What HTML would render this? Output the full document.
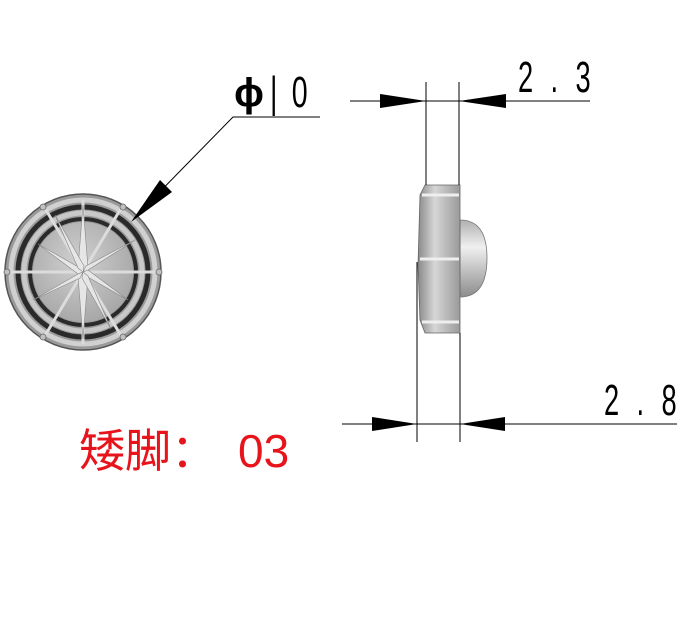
<!DOCTYPE html>
<html><head><meta charset="utf-8"><style>body{margin:0;background:#fff}svg{display:block}</style></head><body>
<svg width="680" height="626" viewBox="0 0 680 626" xmlns="http://www.w3.org/2000/svg">
<defs>
<radialGradient id="g1" cx="45%" cy="40%" r="60%"><stop offset="0" stop-color="#d0d0d0"/><stop offset="1" stop-color="#a8a8a8"/></radialGradient>
<linearGradient id="gb" x1="0" x2="1"><stop offset="0" stop-color="#8a8a8a"/><stop offset="0.4" stop-color="#d6d6d6"/><stop offset="1" stop-color="#9a9a9a"/></linearGradient>
<linearGradient id="gd" x1="0" y1="0" x2="0" y2="1"><stop offset="0" stop-color="#b0b0b0"/><stop offset="0.35" stop-color="#f0f0f0"/><stop offset="1" stop-color="#8c8c8c"/></linearGradient>
</defs>
<g>
<circle cx="83" cy="272" r="78" fill="#9a9a9a" stroke="#555" stroke-width="1.5"/>
<circle cx="83" cy="272" r="72" fill="none" stroke="#d0d0d0" stroke-width="5"/>
<circle cx="83" cy="272" r="65" fill="none" stroke="#2a2a2a" stroke-width="5"/>
<circle cx="83" cy="272" r="59" fill="none" stroke="#c8c8c8" stroke-width="5"/>
<circle cx="83" cy="272" r="53" fill="none" stroke="#2a2a2a" stroke-width="4"/>
<circle cx="83" cy="272" r="50" fill="url(#g1)"/>
<g stroke="#dcdcdc" stroke-width="3" fill="none">
<line x1="5" y1="272" x2="161" y2="272"/>
<line x1="43" y1="205" x2="123" y2="339"/>
<line x1="123" y1="205" x2="43" y2="339"/>
<line x1="83" y1="200" x2="83" y2="344"/>
</g>
<g fill="#e6e6e6" stroke="#888" stroke-width="0.6">
<polygon points="83,205 88,268 83,272 78,268"/>
<polygon points="83,339 88,276 83,272 78,276"/>
<polygon points="38,244 80,268 83,272 78,274"/>
<polygon points="128,300 86,276 83,272 88,270"/>
<polygon points="135,240 88,270 83,272 86,266"/>
<polygon points="33,300 78,274 83,272 80,278"/>
<polygon points="55,215 84,266 83,272 78,268"/>
<polygon points="111,329 82,278 83,272 88,276"/>
</g>
<g fill="#c0c0c0" stroke="#666" stroke-width="0.8">
<circle cx="7" cy="272" r="3"/><circle cx="159" cy="272" r="3"/>
<circle cx="43" cy="207" r="3"/><circle cx="123" cy="207" r="3"/>
<circle cx="43" cy="337" r="3"/><circle cx="123" cy="337" r="3"/>
</g>
</g>
<polyline points="320,117 233,117 140,212" fill="none" stroke="#000" stroke-width="1"/>
<polygon points="131,222 160,180 172,192" fill="#000"/>
<text x="234" y="106" font-family="Liberation Sans,sans-serif" font-size="40" font-weight="bold">ϕ</text>
<text x="270" y="107" font-family="Liberation Sans,sans-serif" font-size="44" font-weight="100" transform="translate(270 107) scale(0.65 1) translate(-270 -107)" letter-spacing="22">|0</text>
<path d="M460,220 Q487,220 487,258 Q487,297 460,297 Z" fill="url(#gd)" stroke="#777" stroke-width="0.8"/>
<path d="M425,185 L460,185 L460,333 L425,333 L420,320 L418,265 L420,195 Z" fill="url(#gb)" stroke="#666" stroke-width="0.8"/>
<g stroke="#eee" stroke-width="3"><line x1="422" y1="195" x2="459" y2="195"/><line x1="420" y1="259" x2="459" y2="259"/><line x1="422" y1="322" x2="459" y2="322"/></g>
<g stroke="#000" stroke-width="1">
<line x1="350" y1="101" x2="590" y2="101"/>
<line x1="426" y1="82" x2="426" y2="185"/>
<line x1="459" y1="82" x2="459" y2="185"/>
<line x1="342" y1="424" x2="677" y2="424"/>
<line x1="417" y1="262" x2="417" y2="442"/>
<line x1="460" y1="333" x2="460" y2="442"/>
</g>
<polygon points="380,94 426,101 380,108" fill="#000"/>
<polygon points="506,94 459,101 506,108" fill="#000"/>
<polygon points="372,417 417,424 372,431" fill="#000"/>
<polygon points="505,417 460,424 505,431" fill="#000"/>
<text x="518" y="92" font-family="Liberation Sans,sans-serif" font-size="44" font-weight="100" transform="translate(518 92) scale(0.62 1) translate(-518 -92)" letter-spacing="28">2.3</text>
<text x="604" y="415" font-family="Liberation Sans,sans-serif" font-size="44" font-weight="100" transform="translate(604 415) scale(0.62 1) translate(-604 -415)" letter-spacing="28">2.8</text>
<text x="79" y="467" fill="#e8141c" font-family="Liberation Sans,'Noto Sans CJK SC',sans-serif" font-size="46">矮脚：</text>
<text x="238" y="467" fill="#e8141c" font-family="Liberation Sans,sans-serif" font-size="46">03</text>
</svg>
</body></html>
